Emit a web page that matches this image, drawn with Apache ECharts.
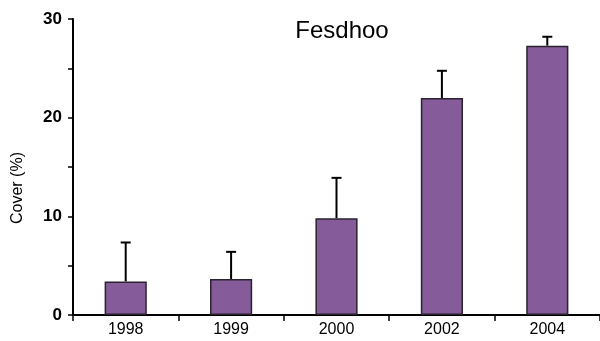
<!DOCTYPE html>
<html>
<head>
<meta charset="utf-8">
<script src="https://cdn.jsdelivr.net/npm/echarts@6/dist/echarts.min.js"></script>
<style>html,body{margin:0;padding:0;background:#fff}#c{width:600px;height:341px}</style>
</head>
<body>
<div id="c"></div>
<script>
var categories = ['1998', '1999', '2000', '2002', '2004'];
var coverMean = [3.4, 3.65, 9.8, 22.0, 27.3];
var coverErrTop = [7.35, 6.4, 13.9, 24.75, 28.2];
var yTicks = [0, 10, 20, 30];

var chart = echarts.init(document.getElementById('c'), null, {renderer: 'canvas'});
var font = 'Liberation Sans, Arial, Helvetica, sans-serif';
chart.setOption({
  animation: false,
  backgroundColor: '#fff',
  title: {
    text: 'Fesdhoo',
    left: 337, top: 14, textAlign: 'center',
    textStyle: {fontFamily: font, fontSize: 24, fontWeight: 'normal', color: '#000'}
  },
  graphic: [{
    type: 'text', x: 18, y: 188, rotation: Math.PI / 2,
    style: {text: 'Cover (%)', fontFamily: font, fontSize: 16, fill: '#000', align: 'center', verticalAlign: 'middle'}
  }],
  grid: {left: 73, right: -5, top: 19, bottom: 26},
  xAxis: {
    type: 'category', data: categories,
    axisLine: {lineStyle: {color: '#000', width: 2}},
    axisTick: {show: true, length: 6, inside: false, lineStyle: {color: '#000', width: 1.5}},
    axisLabel: {fontFamily: font, fontSize: 16, color: '#000', margin: 7}
  },
  yAxis: {
    type: 'value', min: yTicks[0], max: yTicks[yTicks.length - 1], interval: 10,
    axisLine: {show: true, lineStyle: {color: '#000', width: 2}},
    axisTick: {show: true, length: 5, lineStyle: {color: '#000', width: 1.5}},
    minorTick: {show: true, splitNumber: 2, length: 5, lineStyle: {color: '#000', width: 1.5}},
    splitLine: {show: false},
    axisLabel: {fontFamily: font, fontSize: 17, fontWeight: 'bold', color: '#000', margin: 11}
  },
  series: [{
    type: 'bar', data: coverMean, barWidth: '40%',
    itemStyle: {color: '#855c99', borderColor: '#2a2230', borderWidth: 1.5},
    z: 2
  }, {
    type: 'custom', z: 1,
    data: categories.map(function (c, i) { return [i, coverMean[i], coverErrTop[i]]; }),
    renderItem: function (params, api) {
      var base = api.coord([api.value(0), api.value(1)]);
      var top = api.coord([api.value(0), api.value(2)]);
      var half = 5;
      return {
        type: 'group',
        children: [
          {type: 'line', shape: {x1: base[0], y1: base[1], x2: top[0], y2: top[1]}, style: {stroke: '#000', lineWidth: 2}},
          {type: 'line', shape: {x1: top[0] - half, y1: top[1], x2: top[0] + half, y2: top[1]}, style: {stroke: '#000', lineWidth: 2}}
        ]
      };
    }
  }]
});
</script>
</body>
</html>
